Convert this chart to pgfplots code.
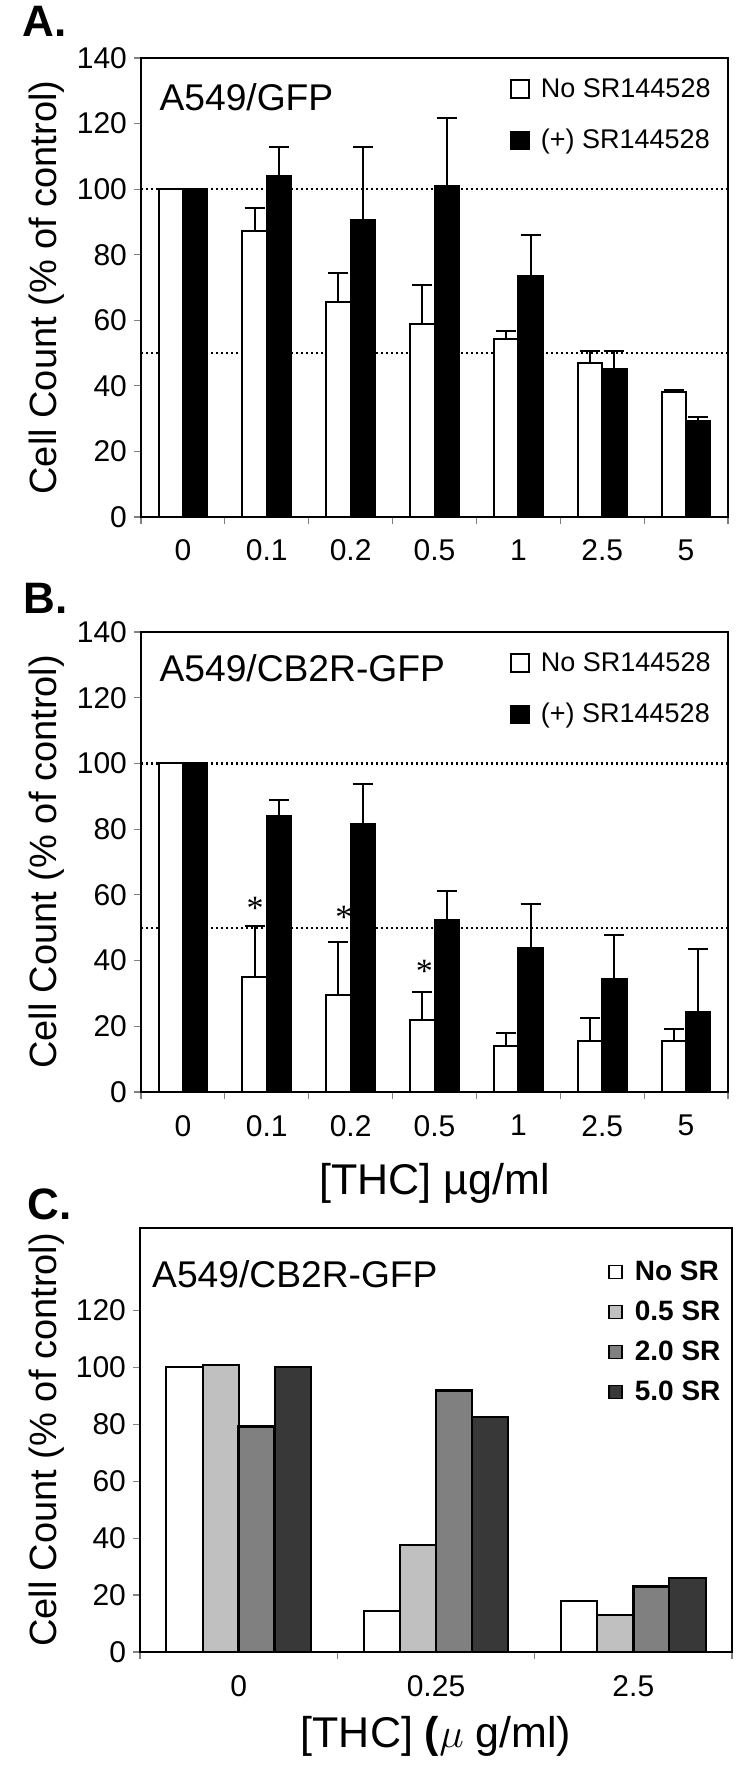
\documentclass[border=0pt]{standalone}
\usepackage{fontspec}
\setmainfont{Liberation Sans}
\newfontfamily\serif{Liberation Serif}
\usepackage{pgfplots}
\pgfplotsset{compat=1.18}

\definecolor{lgray}{HTML}{C0C0C0}
\definecolor{mgray}{HTML}{808080}
\definecolor{dgray}{HTML}{383838}

\newcommand\tickfont{\fontsize{15}{15}\selectfont}
\newcommand\labfont{\fontsize{19}{19}\selectfont}
\newcommand\inkfont{\fontsize{18.6}{18.6}\selectfont}
\newcommand\legfont{\fontsize{13.5}{13.5}\selectfont}
\newcommand\titfont{\fontsize{21.5}{21.5}\selectfont}
\newcommand\letfont{\bfseries\fontsize{22}{22}\selectfont}

\pgfplotsset{
  panel/.style={
    scale only axis,
    clip=false,
    ybar,
    axis line style={line width=1.2pt},
    ymin=0,
    tick align=outside,
    xtick pos=left, ytick pos=left,
    major tick length=3.5pt,
    tick style={gray, line width=0.6pt},
    tick label style={font=\tickfont},
    /pgf/number format/assume math mode=true,
    ylabel={Cell Count (\% of control)},
    ylabel style={at={(axis description cs:-0.16,0.5)}, anchor=center, font=\labfont},
    legend cell align=left,
    legend image code/.code={\draw[##1, line width=0.8pt] (0pt,-4.5pt) rectangle (9pt,4.5pt);
      \path[draw=none, fill=none] (0pt,0pt) rectangle (13pt,0.1pt);},
    error bars/y dir=plus, error bars/y explicit,
    error bars/error bar style={line width=1pt, black},
    error bars/error mark options={rotate=90, mark size=5pt, line width=1pt, black},
  },
  sevencat/.style={
    xmin=-0.5, xmax=6.5, ymax=140,
    ytick={0,20,...,140},
    xtick={-0.5,0.5,...,6.5}, xticklabels={},
    extra x ticks={0,1,...,6},
    extra x tick labels={0,0.1,0.2,0.5,1,2.5,5},
    extra x tick style={major tick length=0pt, xticklabel style={yshift=-8pt}},
    legend style={at={(0.618,0.876)}, anchor=west, draw=none, fill=none,
      font=\legfont, row sep=10.5pt},
  },
  smallleg/.style={
    legend image code/.code={\draw[##1, line width=0.7pt] (0pt,-3.3pt) rectangle (6.6pt,3.3pt);
      \path[draw=none, fill=none] (0pt,0pt) rectangle (11pt,0.1pt);},
  },
  dotline/.style={sharp plot, forget plot, black, line width=1.2pt, dash pattern=on 1.1pt off 1.4pt},
}

\begin{document}
\begin{tikzpicture}
\useasboundingbox (0,0) rectangle (375pt,883.5pt);

% ---------- A ----------
\begin{axis}[panel, sevencat, at={(70.5pt,625pt)}, width=293.5pt, height=229.5pt]
\addplot[dotline] coordinates {(-0.5,100) (6.5,100)};
\addplot[dotline] coordinates {(-0.5,50) (6.5,50)};
\addplot[fill=white, draw=black, line width=1pt, bar width=0.29, bar shift=-0.145]
  coordinates {(0,100) +- (0,0) (1,87.3) +- (0,6.8) (2,65.5) +- (0,9) (3,59) +- (0,11.8)
               (4,54.3) +- (0,2.5) (5,47) +- (0,3.6) (6,38.1) +- (0,0.7)};
\addplot[fill=black, draw=black, line width=1pt, bar width=0.29, bar shift=0.145]
  coordinates {(0,100) +- (0,0) (1,104.1) +- (0,8.7) (2,90.6) +- (0,22.2) (3,101.1) +- (0,20.7)
               (4,73.4) +- (0,12.5) (5,45) +- (0,5.6) (6,29.3) +- (0,1.1)};
\legend{No SR144528, (+) SR144528}
\node[anchor=west, inner sep=0pt, font=\inkfont] at (axis description cs:0.031,0.915) {A549/GFP};
\node[anchor=base west, inner sep=0pt, font=\letfont] at (axis description cs:-0.203,1.046) {A.};
\end{axis}

% ---------- B ----------
\begin{axis}[panel, sevencat, at={(70.5pt,337.5pt)}, width=293.5pt, height=230pt,
  xlabel={[THC] µg/ml},
  xlabel style={at={(axis description cs:0.5,-0.199)}, anchor=center, font=\titfont}]
\addplot[dotline] coordinates {(-0.5,100) (6.5,100)};
\addplot[dotline] coordinates {(-0.5,50) (6.5,50)};
\addplot[fill=white, draw=black, line width=1pt, bar width=0.29, bar shift=-0.145]
  coordinates {(0,100) +- (0,0) (1,35.1) +- (0,15.3) (2,29.4) +- (0,16.3) (3,21.9) +- (0,8.4)
               (4,13.9) +- (0,4) (5,15.6) +- (0,6.9) (6,15.6) +- (0,3.7)};
\addplot[fill=black, draw=black, line width=1pt, bar width=0.29, bar shift=0.145]
  coordinates {(0,100) +- (0,0) (1,83.9) +- (0,5.1) (2,81.5) +- (0,12.1) (3,52.2) +- (0,9)
               (4,43.8) +- (0,13.4) (5,34.5) +- (0,13.3) (6,24.4) +- (0,19.1)};
\addplot[only marks, mark=none, forget plot, nodes near coords, point meta=explicit symbolic,
  every node near coord/.style={anchor=center, inner sep=0pt, font=\serif\fontsize{17}{17}\selectfont}]
  coordinates {(0.86,55.8)[*] (1.92,53)[*] (2.88,36.7)[*]};
\legend{No SR144528, (+) SR144528}
\node[anchor=west, inner sep=0pt, font=\inkfont] at (axis description cs:0.031,0.922) {A549/CB2R-GFP};
\node[anchor=base west, inner sep=0pt, font=\letfont] at (axis description cs:-0.201,1.041) {B.};
\end{axis}

% ---------- C ----------
\begin{axis}[panel, smallleg, at={(70pt,57.5pt)}, width=296pt, height=212pt,
  xmin=-0.5, xmax=2.5, ymax=149,
  ytick={0,20,...,120},
  ylabel style={at={(axis description cs:-0.157,0.5)}},
  xtick={-0.5,0.5,1.5,2.5}, xticklabels={},
  extra x ticks={0,1,2},
  extra x tick labels={0,0.25,2.5},
  extra x tick style={major tick length=0pt, xticklabel style={yshift=-8pt}},
  xlabel={[THC] \textbf{(}$\mu$ g/ml)},
  xlabel style={at={(axis description cs:0.5,-0.199)}, anchor=center, font=\titfont},
  legend style={at={(0.78,0.755)}, anchor=west, draw=none, fill=none,
    font=\bfseries\fontsize{14}{14}\selectfont, row sep=4.75pt}]
\addplot[fill=white, draw=black, line width=1pt, bar width=0.183, bar shift=-0.2745]
  coordinates {(0,100) (1,14.4) (2,18)};
\addplot[fill=lgray, draw=black, line width=1pt, bar width=0.183, bar shift=-0.0915]
  coordinates {(0,101) (1,37.6) (2,13.1)};
\addplot[fill=mgray, draw=black, line width=1.3pt, bar width=0.183, bar shift=0.0915]
  coordinates {(0,79.2) (1,91.8) (2,23.1)};
\addplot[fill=dgray, draw=black, line width=1pt, bar width=0.183, bar shift=0.2745]
  coordinates {(0,100) (1,82.7) (2,25.9)};
\legend{No SR, 0.5 SR, 2.0 SR, 5.0 SR}
\node[anchor=west, inner sep=0pt, font=\inkfont] at (axis description cs:0.02,0.892) {A549/CB2R-GFP};
\node[anchor=base west, inner sep=0pt, font=\letfont] at (axis description cs:-0.191,1.019) {C.};
\end{axis}
\end{tikzpicture}
\end{document}
